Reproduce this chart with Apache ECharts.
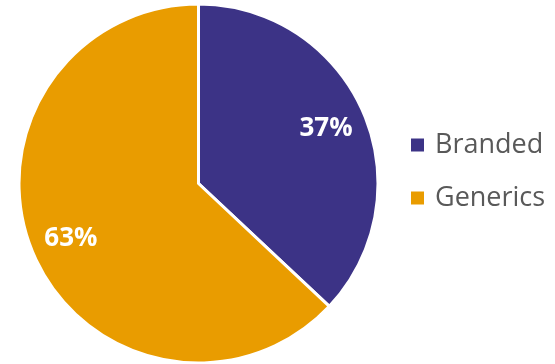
<!DOCTYPE html>
<html>
<head>
<meta charset="utf-8">
<style>
  html, body { margin: 0; padding: 0; background: #ffffff; }
  #chart { width: 555px; height: 364px; }
</style>
<script src="https://cdn.jsdelivr.net/npm/echarts@6/dist/echarts.min.js"></script>
</head>
<body>
<div id="chart"></div>
<script>
// Market share split
const categories = ['Branded', 'Generics'];
const shares = [37, 63];
const colors = ['#3C3386', '#E99C00'];

const sliceData = categories.map((name, i) => ({
  name: name,
  value: shares[i],
  itemStyle: { color: colors[i] }
}));

// Transparent copy of the slices, twice as large, so the "inside" label
// lands at the wanted distance from the centre.
const labelData = categories.map((name, i) => ({
  name: name,
  value: shares[i],
  itemStyle: { color: 'rgba(0,0,0,0)', borderWidth: 0 }
}));

const chart = echarts.init(document.getElementById('chart'), null, { renderer: 'canvas' });

chart.setOption({
  animation: false,
  backgroundColor: '#ffffff',
  legend: {
    orient: 'vertical',
    left: 411,
    top: 130,
    padding: 0,
    itemWidth: 13,
    itemHeight: 13,
    itemGap: 23,
    icon: 'rect',
    data: categories.map((name, i) => ({
      name: name,
      itemStyle: { color: colors[i], borderWidth: 0 }
    })),
    textStyle: {
      fontFamily: 'Open Sans',
      fontSize: 27,
      color: '#595959',
      lineHeight: 30,
      padding: [0, 0, 0, 6]
    }
  },
  series: [
    {
      type: 'pie',
      center: [198.5, 183.5],
      radius: [0, 179.5],
      startAngle: 90,
      clockwise: true,
      silent: true,
      label: { show: false },
      labelLine: { show: false },
      itemStyle: { borderColor: '#ffffff', borderWidth: 3 },
      data: sliceData
    },
    {
      type: 'pie',
      center: [198.5, 183.5],
      radius: [0, 272],
      startAngle: 90,
      clockwise: true,
      silent: true,
      legendHoverLink: false,
      label: {
        show: true,
        position: 'inside',
        formatter: '{c}%',
        fontFamily: 'Open Sans',
        fontWeight: 'bold',
        fontSize: 26,
        color: '#ffffff'
      },
      labelLine: { show: false },
      data: labelData
    }
  ]
});
</script>
</body>
</html>
